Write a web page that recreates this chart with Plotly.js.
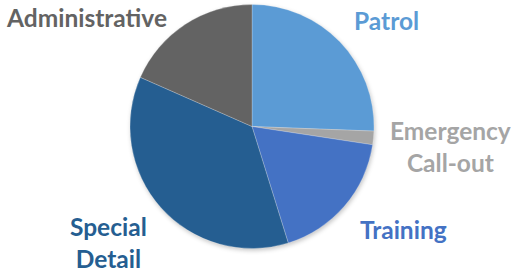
<!DOCTYPE html>
<html><head><meta charset="utf-8">
<script src="https://cdn.plot.ly/plotly-3.0.1.min.js"></script>
<style>html,body{margin:0;padding:0;background:#fff}#c{width:511px;height:273px}
.pielayer{filter:drop-shadow(1px 2px 2px rgba(0,0,0,0.22))}</style>
</head><body><div id="c"></div>
<script>
const categories = ["Patrol", "Emergency<br>Call-out", "Training", "Special<br>Detail", "Administrative"];
const values = [25.6, 1.8, 17.8, 36.4, 18.4];
const colors = ["#5B9BD5", "#A5A5A5", "#4472C4", "#255E91", "#636363"];
// label placement (paper coords)
const labelX = [386/511, 450/511, 403/511, 108/511, 86/511];
const labelY = [1-21/273, 1-146/273, 1-229/273, 1-243/273, 1-17/273];

const W = 511, H = 273, cx = 252, cy = 126.5, r = 122;
const trace = {
  type: "pie",
  labels: categories,
  values: values,
  sort: false,
  direction: "clockwise",
  rotation: 0,
  textinfo: "none",
  hoverinfo: "label+value",
  marker: {colors: colors, line: {color: "rgba(255,255,255,0.45)", width: 0.5}},
  domain: {x: [(cx - r) / W, (cx + r) / W], y: [(H - cy - r) / H, (H - cy + r) / H]},
  showlegend: false
};
const annotations = categories.map((c, i) => ({
  text: "<b>" + c + "</b>", xref: "paper", yref: "paper",
  x: labelX[i], y: labelY[i], xanchor: "center", yanchor: "middle",
  showarrow: false, align: "center",
  font: {family: "Lato, 'Open Sans', sans-serif", size: 24.5, color: colors[i]}
}));
Plotly.newPlot("c", [trace], {
  width: W, height: H, margin: {l: 0, r: 0, t: 0, b: 0},
  paper_bgcolor: "#fff", annotations: annotations
}, {displayModeBar: false, staticPlot: true});
</script></body></html>
